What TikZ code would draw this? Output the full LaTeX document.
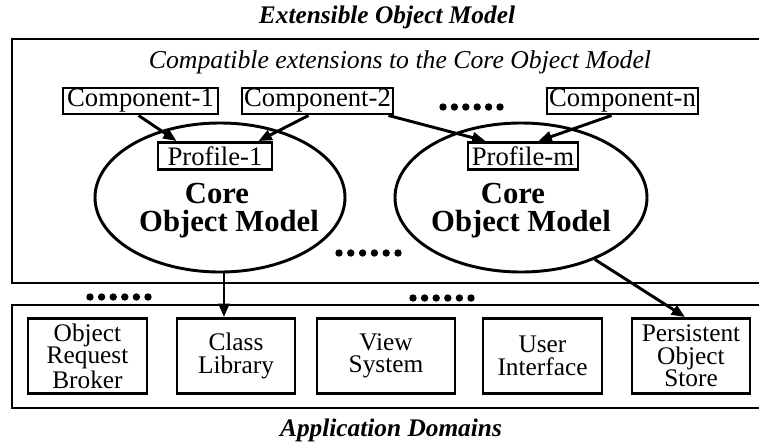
\documentclass[tikz,border=0pt]{standalone}
\usepackage{fontspec}
\setmainfont{Liberation Serif}
\usetikzlibrary{shapes.geometric,arrows.meta,calc}
\newlength{\px}
\setlength{\px}{0.75pt}
\tikzset{
  lw/.style={line width=2.2pt},
  compbox/.style={draw,lw,inner sep=0pt,minimum height=26\px,font=\fontsize{20pt}{20pt}\selectfont},
  domainbox/.style={draw,lw,inner sep=0pt,minimum height=75\px,align=center,font=\fontsize{19pt}{17pt}\selectfont},
  coreell/.style={draw,lw,ellipse,inner sep=0pt},
  coretext/.style={inner sep=0pt,align=center,font=\fontsize{23pt}{21pt}\selectfont\bfseries},
  arr/.style={lw,-{Triangle[length=10pt,width=8pt]}},
  dot/.style={fill=black},
}
\begin{document}
\begin{tikzpicture}[x=0.75pt,y=-0.75pt]
\useasboundingbox (0,0) rectangle (759,443);
\clip (0,0) rectangle (759,443);
% titles
\node[inner sep=0pt,font=\fontsize{19pt}{20pt}\selectfont\bfseries\itshape] (t1) at (387,17) {Extensible Object Model};
\node[inner sep=0pt,font=\fontsize{19pt}{20pt}\selectfont\bfseries\itshape] (t2) at (391,430) {Application Domains};
\node[inner sep=0pt,font=\fontsize{19.3pt}{20pt}\selectfont\itshape] (t3) at (400,62) {Compatible extensions to the Core Object Model};
% frames (open on the right: they run past the picture's edge)
\draw[lw] (770,39) -- (12,39) -- (12,283) -- (770,283);
\draw[lw] (770,305) -- (12,305) -- (12,408) -- (770,408);
% ellipses
\node[coreell,minimum width=250\px,minimum height=149\px] (e1) at (220,197.5) {};
\node[coreell,minimum width=252\px,minimum height=149\px] (e2) at (521,197.5) {};
\node[coretext] (e1t) at (229,211) {Core\hspace*{24\px}\\Object Model};
\node[coretext] (e2t) at (521,211) {Core\hspace*{16\px}\\Object Model};
% components
\node[compbox,minimum width=155\px] (c1) at (140.5,101) {Component-1};
\node[compbox,minimum width=151\px] (c2) at (317.5,101) {Component-2};
\node[compbox,minimum width=151\px] (cn) at (622.5,101) {Component-n};
\node[compbox,fill=white,minimum width=114\px,minimum height=27\px] (p1) at (215,156) {Profile-1};
\node[compbox,fill=white,minimum width=110\px,minimum height=27\px] (pm) at (523,156) {Profile-m};
% domain boxes
\node[domainbox,minimum width=119\px] (orb) at (87.5,356) {Object\\Request\\Broker};
\node[domainbox,minimum width=118\px] (cl) at (236,356) {Class\\Library};
\node[domainbox,minimum width=138\px] (vs) at (386,356) {View\\System};
\node[domainbox,minimum width=119\px] (ui) at (542.5,356) {User\\Interface};
\node[domainbox,minimum width=118\px] (pos) at (691,356) {Persistent\\Object\\Store};
% arrows
\draw[arr] ($(c1.south west)+(77,0)$) -- ($(p1.north west)+(20,0)$);
\draw[arr] ($(c2.south west)+(68,0)$) -- ($(p1.north east)+(-15,0)$);
\draw[arr] ($(c2.south east)+(-6,0)$) -- ($(pm.north west)+(19,0)$);
\draw[arr] ($(cn.south west)+(66,0)$) -- ($(pm.north east)+(-41,0)$);
\draw[arr] (e1.-87) -- (e1.-87 |- cl.north);
\draw[arr] (e2.-40) -- ($(pos.north)+(-6,0)$);
% dots
\foreach \x in {0,...,5} {
  \fill[dot] (443+11.4*\x,107) circle (3.7);
  \fill[dot] (339+11.8*\x,253) circle (3.7);
  \fill[dot] (90+11.6*\x,297) circle (3.7);
  \fill[dot] (413+11.6*\x,298) circle (3.7);
}
\end{tikzpicture}
\end{document}
